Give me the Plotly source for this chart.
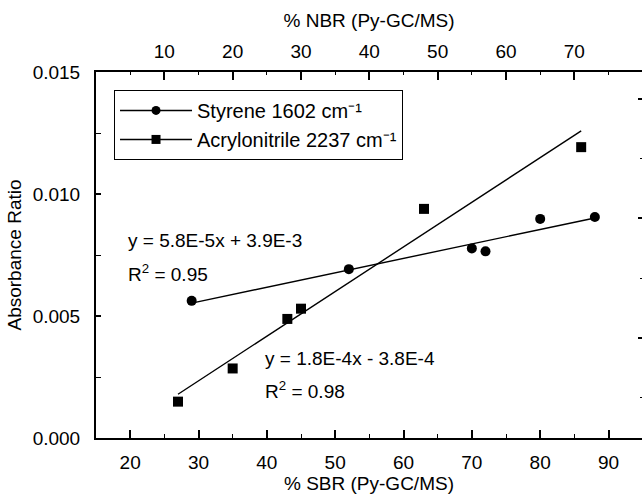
import numpy as np
import plotly.graph_objects as go

# ---- data ----
sbr_pct = [29, 52, 70, 72, 80, 88]                      # % SBR (bottom axis)
styrene_ratio = [0.00562, 0.00692, 0.00777, 0.00765, 0.00898, 0.00906]
nbr_pct = [12, 20, 28, 30, 48, 71]                      # % NBR (top axis)
acrylo_ratio = [0.00149, 0.00285, 0.00488, 0.00530, 0.00939, 0.01192]

styrene_eq = "y = 5.8E-5x + 3.9E-3"
styrene_r2 = "R<sup>2</sup> = 0.95"
acrylo_eq = "y = 1.8E-4x - 3.8E-4"
acrylo_r2 = "R<sup>2</sup> = 0.98"

sbr_ticks = [20, 30, 40, 50, 60, 70, 80, 90]
nbr_ticks = [10, 20, 30, 40, 50, 60, 70]
y_ticks = [0.000, 0.005, 0.010, 0.015]
y_ticklabels = ["0.000", "0.005", "0.010", "0.015"]

# ---- linear fits ----
s_coef = np.polyfit(sbr_pct, styrene_ratio, 1)
a_coef = np.polyfit(nbr_pct, acrylo_ratio, 1)
s_fx = np.array([min(sbr_pct), max(sbr_pct)])
a_fx = np.array([min(nbr_pct), max(nbr_pct)])

FONT = "Liberation Sans, Arial, sans-serif"
FS = 19
BLACK = "#000000"

fig = go.Figure()

# fit lines
fig.add_trace(go.Scatter(x=s_fx, y=np.polyval(s_coef, s_fx), mode="lines",
                         line=dict(color=BLACK, width=1.4), showlegend=False,
                         xaxis="x", yaxis="y", hoverinfo="skip"))
fig.add_trace(go.Scatter(x=a_fx, y=np.polyval(a_coef, a_fx), mode="lines",
                         line=dict(color=BLACK, width=1.4), showlegend=False,
                         xaxis="x2", yaxis="y", hoverinfo="skip"))
# data points
fig.add_trace(go.Scatter(x=sbr_pct, y=styrene_ratio, mode="markers",
                         marker=dict(symbol="circle", size=10, color=BLACK),
                         showlegend=False, xaxis="x", yaxis="y"))
fig.add_trace(go.Scatter(x=nbr_pct, y=acrylo_ratio, mode="markers",
                         marker=dict(symbol="square", size=10, color=BLACK),
                         showlegend=False, xaxis="x2", yaxis="y"))
# legend entries
fig.add_trace(go.Scatter(x=[None], y=[None], mode="lines+markers",
                         name="Styrene 1602 cm\u207b\u00b9",
                         marker=dict(symbol="circle", size=9, color=BLACK),
                         line=dict(color=BLACK, width=1.6)))
fig.add_trace(go.Scatter(x=[None], y=[None], mode="lines+markers",
                         name="Acrylonitrile 2237 cm\u207b\u00b9",
                         marker=dict(symbol="square", size=9, color=BLACK),
                         line=dict(color=BLACK, width=1.6)))
# invisible trace to carry the right-hand tick axis
fig.add_trace(go.Scatter(x=sbr_pct, y=styrene_ratio, mode="markers",
                         marker=dict(opacity=0), showlegend=False,
                         xaxis="x", yaxis="y2", hoverinfo="skip"))

# annotations (equations)
for txt, xx, yy in [(styrene_eq, 19.4, 0.0081), (styrene_r2, 19.4, 0.00677),
                    (acrylo_eq, 39.4, 0.00325), (acrylo_r2, 39.4, 0.00198)]:
    fig.add_annotation(x=xx, y=yy, xref="x", yref="y", text=txt, showarrow=False,
                       xanchor="left", yanchor="middle",
                       font=dict(family=FONT, size=FS, color=BLACK))

fig.update_layout(
    width=642, height=498,
    margin=dict(l=96, r=0, t=72, b=60),
    paper_bgcolor="white", plot_bgcolor="white",
    font=dict(family=FONT, size=FS, color=BLACK),
    showlegend=True,
    legend=dict(x=0.033, y=0.951, xanchor="left", yanchor="top",
                bordercolor=BLACK, borderwidth=1, bgcolor="white",
                font=dict(family=FONT, size=20, color=BLACK),
                itemwidth=72, tracegroupgap=0),
    xaxis=dict(range=[15, 94.9], tickvals=sbr_ticks, ticks="inside", ticklen=8,
               tickwidth=1.5, tickcolor=BLACK, showline=True, linewidth=2,
               linecolor=BLACK, showgrid=False, zeroline=False, mirror=False,
               ticklabelstandoff=6,
               minor=dict(tickvals=[25, 35, 45, 55, 65, 75, 85], ticks="inside",
                          ticklen=4, tickwidth=1, tickcolor=BLACK),
               title=dict(text="% SBR (Py-GC/MS)", standoff=4,
                          font=dict(family=FONT, size=FS))),
    xaxis2=dict(range=[0, 79.9], overlaying="x", side="top", anchor="y",
                tickvals=nbr_ticks, ticks="inside", ticklen=8, tickwidth=1.5,
                tickcolor=BLACK, showline=True, linewidth=2, linecolor=BLACK,
                showgrid=False, zeroline=False, ticklabelstandoff=4,
                minor=dict(tickvals=[5, 15, 25, 35, 45, 55, 65, 75], ticks="inside",
                           ticklen=3, tickwidth=1, tickcolor=BLACK),
                title=dict(text="% NBR (Py-GC/MS)", standoff=9,
                           font=dict(family=FONT, size=FS))),
    yaxis=dict(range=[0, 0.015], tickvals=y_ticks, ticktext=y_ticklabels,
               ticks="inside", ticklen=5, tickwidth=1.5, tickcolor=BLACK,
               showline=True, linewidth=2, linecolor=BLACK, showgrid=False,
               zeroline=False, ticklabelstandoff=10,
               minor=dict(tickvals=[0.0025, 0.0075, 0.0125], ticks="inside",
                          ticklen=5, tickwidth=1, tickcolor=BLACK),
               title=dict(text="Absorbance Ratio", standoff=6,
                          font=dict(family=FONT, size=FS))),
    yaxis2=dict(range=[0, 0.015], overlaying="y", side="right", anchor="x",
                showline=False, showgrid=False, zeroline=False,
                showticklabels=False, ticks="inside", ticklen=4, tickwidth=1.5,
                tickcolor=BLACK, tickmode="linear", tick0=0.0041, dtick=0.0049,
                minor=dict(ticks="inside", ticklen=2, tickwidth=1,
                           tickcolor=BLACK, tick0=0.0041, dtick=0.00245)),
)

fig.write_html("out.html")
